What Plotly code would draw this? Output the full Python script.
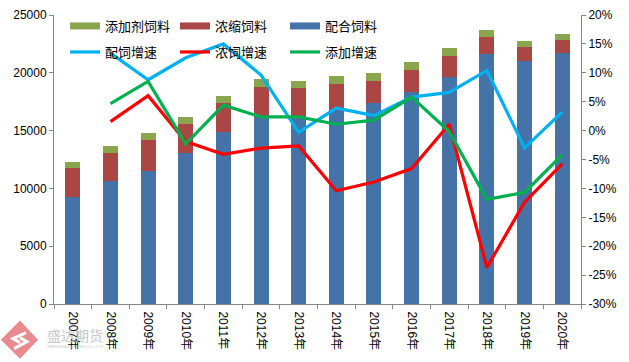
import plotly.graph_objects as go

years = ["2007年","2008年","2009年","2010年","2011年","2012年","2013年","2014年","2015年","2016年","2017年","2018年","2019年","2020年"]
peihe = [9270,10600,11520,13020,14890,16270,16300,16900,17400,18350,19620,21660,21030,21690]
nongsuo = [2510,2480,2680,2560,2510,2510,2400,2140,1900,1900,1840,1440,1210,1150]
tianjia = [520,600,610,610,600,690,600,690,690,690,690,600,510,520]
pei_growth = [None,13.4,8.8,12.6,15.0,9.6,-0.3,3.9,2.6,5.8,6.6,10.4,-3.0,3.2]
nong_growth = [None,1.56,6.05,-1.9,-4.1,-3.04,-2.64,-10.4,-8.9,-6.56,1.1,-23.7,-12.4,-5.75]
tian_growth = [None,4.67,8.5,-2.3,4.4,2.37,2.37,1.1,1.8,5.8,-0.15,-11.9,-10.7,-4.2]
left_ticks = [0,5000,10000,15000,20000,25000]
right_ticks = [-30,-25,-20,-15,-10,-5,0,5,10,15,20]
right_labels = [f"{v}%" for v in right_ticks]

FONT = "Liberation Sans, Noto Sans CJK SC, sans-serif"
AXIS = "#868686"
L, R, T, B = 54, 580.7, 15, 304.3
W, H = 629, 362

fig = go.Figure()
bar_series = [("配合饲料", peihe, "#4572A7"), ("浓缩饲料", nongsuo, "#AA4643"), ("添加剂饲料", tianjia, "#89A54E")]
for name, vals, color in bar_series:
    fig.add_trace(go.Bar(x=years, y=vals, name=name, marker=dict(color=color, line_width=0),
                         showlegend=False, legendgroup=name, yaxis="y"))
for name, vals, color in reversed(bar_series):
    fig.add_trace(go.Scatter(x=[None], y=[None], name=name, mode="lines", line=dict(color=color, width=7),
                             legend="legend", legendgroup=name, yaxis="y"))
for name, vals, color in [("配饲增速", pei_growth, "#00B0F0"), ("浓饲增速", nong_growth, "#FF0000"), ("添加增速", tian_growth, "#00B050")]:
    fig.add_trace(go.Scatter(x=years, y=vals, name=name, mode="lines", line=dict(color=color, width=3.2),
                             legend="legend2", yaxis="y2"))

def xp(x):
    return (x - L) / (R - L)
def yp(y):
    return (B - y) / (B - T)

legend_common = dict(orientation="h", xref="container", yref="container", xanchor="left", yanchor="middle",
                     bgcolor="rgba(0,0,0,0)", borderwidth=0, entrywidth=65, entrywidthmode="pixels",
                     itemwidth=30, traceorder="normal", font=dict(family=FONT, size=13, color="#000000"), x=65/W)

fig.update_layout(
    width=W, height=H, autosize=False,
    margin=dict(l=L, r=W-R, t=T, b=H-B, autoexpand=False),
    paper_bgcolor="white", plot_bgcolor="white",
    barmode="stack", bargap=0.6,
    font=dict(family=FONT, size=12, color="#000000"),
    showlegend=True,
    legend=dict(y=1-26/H, **legend_common),
    legend2=dict(y=1-52/H, **legend_common),
    xaxis=dict(type="category", tickson="boundaries", ticks="outside", ticklen=4, tickcolor=AXIS, tickwidth=1,
               showline=True, linecolor=AXIS, linewidth=1, showgrid=False, tickangle=90, ticklabelstandoff=4,
               tickfont=dict(family=FONT, size=12, color="#000000")),
    yaxis=dict(range=[0,25000], tickvals=left_ticks, ticktext=[str(v) for v in left_ticks], ticks="outside", ticklen=4, tickcolor=AXIS,
               showline=True, linecolor=AXIS, linewidth=1, showgrid=False, zeroline=False,
               tickfont=dict(family=FONT, size=12, color="#000000")),
    yaxis2=dict(range=[-30,20], tickvals=right_ticks, ticktext=right_labels, overlaying="y", side="right", ticks="outside",
                ticklen=4, tickcolor=AXIS, showline=True, linecolor=AXIS, linewidth=1, showgrid=False, zeroline=False,
                tickfont=dict(family=FONT, size=12, color="#000000")),
)

# watermark logo (pixel positions converted to paper coordinates)
def pt(x, y):
    return f"{xp(x):.4f} {yp(y):.4f}"
diamond = "M " + " L ".join(pt(*p) for p in [(20,323),(36,340),(20,357),(3,340)]) + " Z"
fig.add_shape(type="path", path=diamond, xref="paper", yref="paper",
              fillcolor="#E98A8E", line=dict(color="#E98A8E", width=3), layer="below")
s_top = "M " + " L ".join(pt(*p) for p in [(26,333),(13,339),(20,343)])
s_bot = "M " + " L ".join(pt(*p) for p in [(20,338),(27,342),(14,349)])
for path in (s_top, s_bot):
    fig.add_shape(type="path", path=path, xref="paper", yref="paper",
                  line=dict(color="white", width=3), layer="below")
fig.add_annotation(text="盛达期货", xref="paper", yref="paper", x=xp(45), y=yp(335), xanchor="left", yanchor="middle",
                   showarrow=False, font=dict(family="Noto Sans CJK SC", size=14, color="#C8C8C8"))
fig.add_annotation(text="SHENGDA FUTURES CO.,LTD.", xref="paper", yref="paper", x=xp(45), y=yp(347), xanchor="left",
                   yanchor="middle", showarrow=False, font=dict(family=FONT, size=4, color="#C8C8C8"))

fig.write_html("out.html", post_script="document.body.style.margin='0';", config={"displayModeBar": False})
